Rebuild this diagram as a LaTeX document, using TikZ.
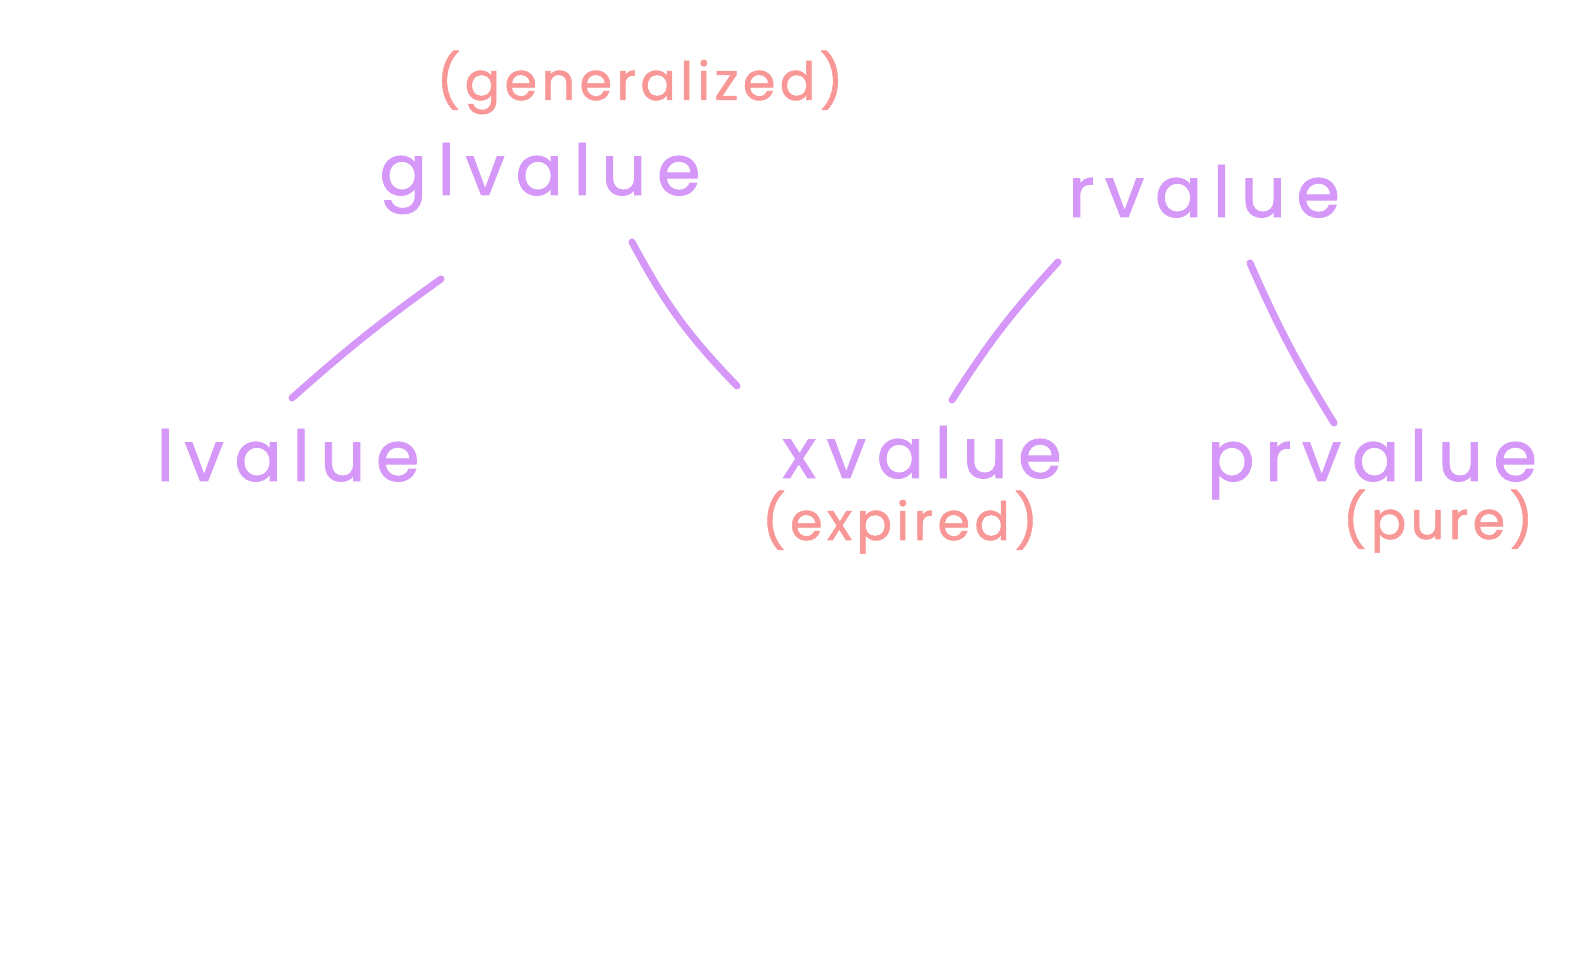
\documentclass[tikz,border=0pt]{standalone}
\usepackage{fontspec}
\newfontfamily\hand[LetterSpace=15,FakeBold=1.2]{Poppins}
\newfontfamily\handsmall[LetterSpace=8,FakeBold=1]{Poppins}
\definecolor{lilac}{RGB}{214,152,248}
\definecolor{salmon}{RGB}{249,150,150}
\begin{document}
\begin{tikzpicture}[x=0.01cm,y=-0.01cm,
  term/.style={anchor=base,inner sep=0pt,text=lilac,font=\hand\fontsize{20}{22}\selectfont},
  note/.style={anchor=base,inner sep=0pt,text=salmon,font=\handsmall\fontsize{15}{18}\selectfont},
  link/.style={draw=lilac,line width=2pt,line cap=round}]
\useasboundingbox (0,0) rectangle (1579,977);
\node[term] (glvalue) at (540,195) {glvalue};
\node[note] (gen) at (640,100) {(generalized)};
\node[term] (rvalue) at (1204,217) {rvalue};
\node[term] (lvalue) at (288,481) {lvalue};
\node[term] (xvalue) at (922,478) {xvalue};
\node[note] (exp) at (900,540) {(expired)};
\node[term] (prvalue) at (1372,481) {prvalue};
\node[note] (pure) at (1438,539) {(pure)};
\draw[link] ([shift={(-99,84)}]glvalue.base) to[bend right=3] ([shift={(4,-83)}]lvalue.base);
\draw[link] ([shift={(92,47)}]glvalue.base) to[bend right=8] ([shift={(-185,-92)}]xvalue.base);
\draw[link] ([shift={(-146,45)}]rvalue.base) to[bend right=5] ([shift={(30,-78)}]xvalue.base);
\draw[link] ([shift={(46,46)}]rvalue.base) to[bend right=4] ([shift={(-38,-58)}]prvalue.base);
\end{tikzpicture}
\end{document}
